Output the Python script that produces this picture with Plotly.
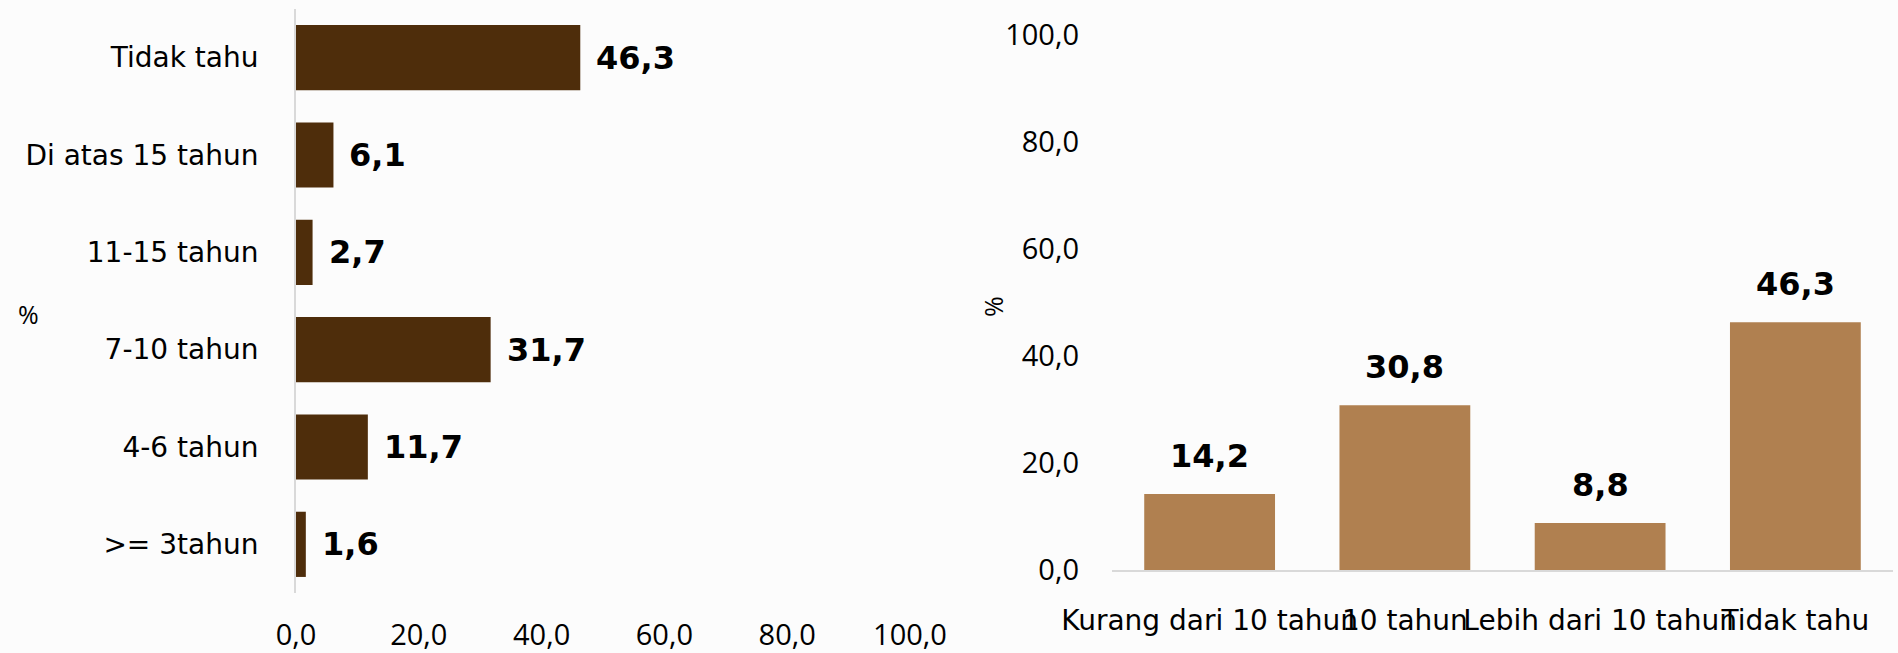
import plotly.graph_objects as go

# left chart: lama tinggal
lama_cat = [">= 3tahun", "4-6 tahun", "7-10 tahun", "11-15 tahun", "Di atas 15 tahun", "Tidak tahu"]
lama_val = [1.6, 11.7, 31.7, 2.7, 6.1, 46.3]

# right chart
rencana_cat = ["Kurang dari 10 tahun", "10 tahun", "Lebih dari 10 tahun", "Tidak tahu"]
rencana_val = [14.2, 30.8, 8.8, 46.3]

x_ticks = [0, 20, 40, 60, 80, 100]

W, H = 1898, 653
NUM_FONT = "Open Sans"
CAT_FONT = "DejaVu Sans"

def px_x(p):
    return p / W

def px_y(p):
    return (H - p) / H

def fmt(v):
    return "{:.1f}".format(v).replace(".", ",")

fig = go.Figure()

fig.add_trace(go.Bar(x=lama_val, y=lama_cat, orientation="h", marker_color="#4E2D0B",
                     xaxis="x", yaxis="y", hoverinfo="skip"))
fig.add_trace(go.Bar(x=rencana_cat, y=rencana_val, marker_color="#B08050",
                     xaxis="x2", yaxis="y2", hoverinfo="skip"))

lbl_font = dict(size=32, color="black", family=CAT_FONT)
annotations = []
for c, v in zip(lama_cat, lama_val):
    annotations.append(dict(x=v, y=c, xref="x", yref="y", text="<b>" + fmt(v) + "</b>",
                            showarrow=False, xanchor="left", xshift=14, font=lbl_font))
for c, v in zip(rencana_cat, rencana_val):
    annotations.append(dict(x=c, y=v, xref="x2", yref="y2", text="<b>" + fmt(v) + "</b>",
                            showarrow=False, yanchor="bottom", yshift=17, font=lbl_font))

# axis titles
annotations.append(dict(x=px_x(28), y=px_y(314), xref="paper", yref="paper", text="%",
                        showarrow=False, xanchor="center", yanchor="middle",
                        font=dict(size=25, color="black", family=NUM_FONT)))
annotations.append(dict(x=px_x(993), y=px_y(307), xref="paper", yref="paper", text="%",
                        showarrow=False, textangle=-90, xanchor="center", yanchor="middle",
                        font=dict(size=25, color="black", family=NUM_FONT)))

num_font = dict(size=29, color="black", family=NUM_FONT)
cat_font = dict(size=28, color="black", family=CAT_FONT)

fig.update_layout(
    width=W, height=H,
    template="none",
    margin=dict(l=0, r=0, t=0, b=0),
    paper_bgcolor="#fcfcfc", plot_bgcolor="#fcfcfc",
    showlegend=False,
    bargap=0.33,
    separators=",.",
    annotations=annotations,
    xaxis=dict(domain=[px_x(296), px_x(910)], range=[0, 100], tickvals=x_ticks,
               tickformat=".1f", showgrid=False, zeroline=False, showline=False,
               ticks="", tickfont=num_font, ticklabelstandoff=22, automargin=False,
               anchor="y"),
    yaxis=dict(domain=[px_y(593), px_y(9)], range=[-0.5, 5.5], showgrid=False,
               zeroline=False, showline=True, linecolor="#d9d9d9", linewidth=2,
               ticks="", tickfont=cat_font, ticklabelstandoff=30, automargin=False,
               anchor="x"),
    xaxis2=dict(domain=[px_x(1112), px_x(1893)], showgrid=False, zeroline=False,
                showline=True, linecolor="#d9d9d9", linewidth=2, ticks="", tickangle=0,
                tickfont=cat_font, ticklabelstandoff=24, automargin=False, anchor="y2"),
    yaxis2=dict(domain=[px_y(570), px_y(35)], range=[0, 100], tickvals=x_ticks,
                tickformat=".1f", showgrid=False, zeroline=False, showline=False,
                ticks="", tickfont=num_font, ticklabelstandoff=32, automargin=False,
                anchor="x2"),
)

fig.write_html("out.html", config={"displayModeBar": False},
               post_script="document.body.style.margin='0';")
